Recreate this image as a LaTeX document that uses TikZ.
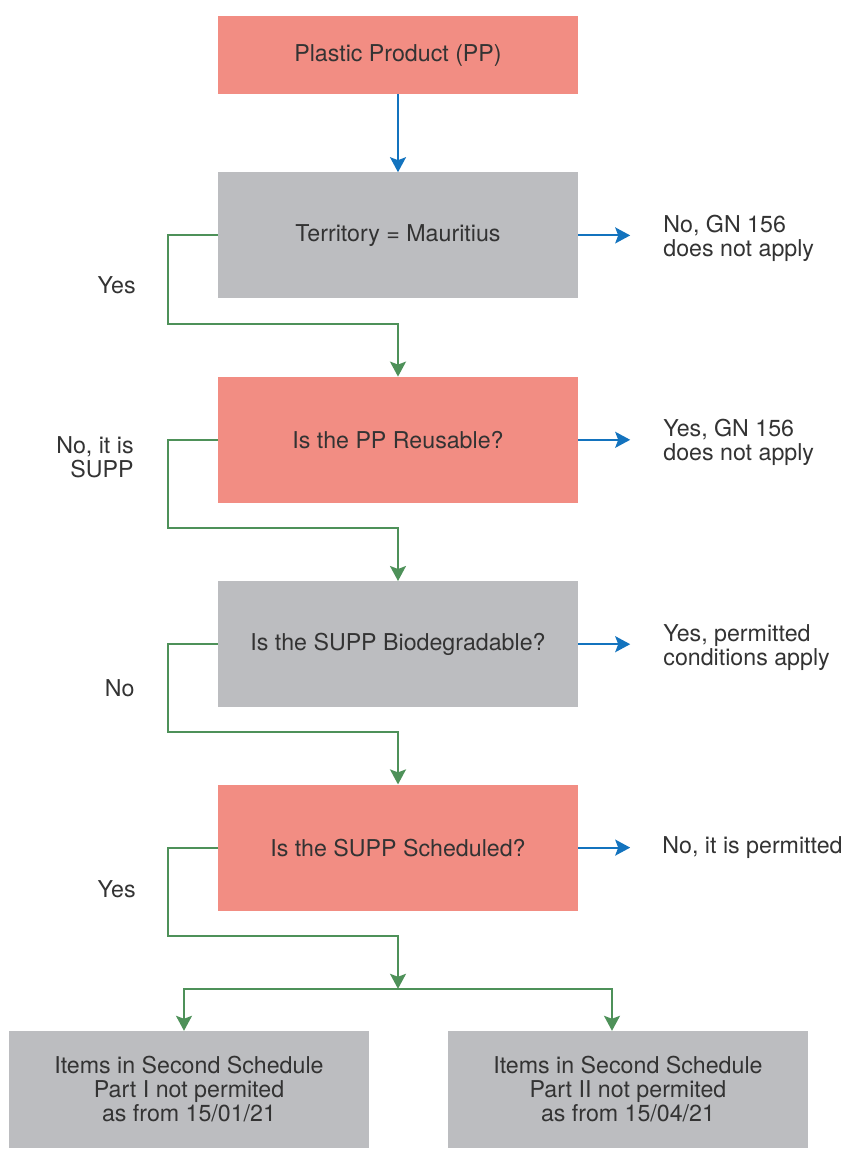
\documentclass[tikz,border=0pt]{standalone}
\usepackage{fontspec}
\setmainfont{TeX Gyre Heros}
\usetikzlibrary{positioning,arrows.meta}
\definecolor{salmon}{HTML}{F28D83}
\definecolor{boxgray}{HTML}{BCBDC0}
\definecolor{flowgreen}{HTML}{4E9159}
\definecolor{flowblue}{HTML}{1373BE}
\definecolor{txt}{HTML}{333333}

\begin{document}
\begin{tikzpicture}[x=1pt,y=1pt,
font=\fontsize{23.2}{24}\selectfont, text=txt,
redbox/.style={rectangle, fill=salmon, minimum width=360pt, minimum height=126pt, align=center},
greybox/.style={rectangle, fill=boxgray, minimum width=360pt, minimum height=126pt, align=center},
answer/.style={inner sep=0pt, align=left, anchor=west},
choice/.style={inner sep=0pt, align=right, anchor=east},
bluearrow/.style={draw=flowblue, line width=2pt, -{Stealth[length=15pt,width=16pt,inset=3pt]}},
greenarrow/.style={draw=flowgreen, line width=2pt, -{Stealth[length=15pt,width=16pt,inset=3pt]}},
]
\useasboundingbox (0,0) rectangle (847,-1149);
%Nodes
\node[redbox, minimum height=78pt]  (pp)       at (398,-55)      {Plastic Product (PP)};
\node[greybox]   (terr)      [below=78pt of pp]      {Territory = Mauritius};
\node[redbox]    (reuse)     [below=78pt of terr]    {Is the PP Reusable?};
\node[greybox]   (bio)       [below=78pt of reuse]   {Is the SUPP Biodegradable?};
\node[redbox]    (sched)     [below=77pt of bio]     {Is the SUPP Scheduled?};
\node[greybox, minimum height=117pt]  (part1) [below=120pt of sched, xshift=-209pt] {Items in Second Schedule\\ Part I not permited\\ as from 15/01/21};
\node[greybox, minimum height=117pt]  (part2) [below=120pt of sched, xshift=230pt]  {Items in Second Schedule\\ Part II not permited\\ as from 15/04/21};

\node[answer]    (noapply)   at ([xshift=85pt,yshift=-3pt]terr.east)   {No, GN 156\\ does not apply};
\node[answer]    (yesapply)  at ([xshift=85pt,yshift=-3pt]reuse.east)  {Yes, GN 156\\ does not apply};
\node[answer]    (permcond)  at ([xshift=85pt,yshift=-3pt]bio.east)    {Yes, permitted\\ conditions apply};
\node[answer]    (permitted) at ([xshift=84pt]sched.east)  {No, it is permitted};

\node[choice]    (yes1)      at ([xshift=-82pt,yshift=-50pt]terr.west)   {Yes};
\node[choice]    (supp)      at ([xshift=-84pt,yshift=-17pt]reuse.west)  {No, it is\\ SUPP};
\node[choice]    (no1)       at ([xshift=-83pt,yshift=-44pt]bio.west)    {No};
\node[choice]    (yes2)      at ([xshift=-82pt,yshift=-42pt]sched.west)  {Yes};

\coordinate (split) at ([yshift=-78pt]sched.south);

%Lines
\draw[bluearrow] (pp.south) -- (terr.north);
\draw[bluearrow, shorten >=33pt] (terr.east) -- (terr.east -| noapply.west);
\draw[bluearrow, shorten >=33pt] (reuse.east) -- (reuse.east -| yesapply.west);
\draw[bluearrow, shorten >=33pt] (bio.east) -- (bio.east -| permcond.west);
\draw[bluearrow, shorten >=32pt] (sched.east) -- (sched.east -| permitted.west);

\draw[greenarrow] (terr.west) -- ++(-50,0) |- ([yshift=-25pt]terr.south) -- (reuse.north);
\draw[greenarrow] (reuse.west) -- ++(-50,0) |- ([yshift=-25pt]reuse.south) -- (bio.north);
\draw[greenarrow] (bio.west) -- ++(-50,0) |- ([yshift=-25pt]bio.south) -- (sched.north);
\draw[greenarrow] (sched.west) -- ++(-50,0) |- ([yshift=-25pt]sched.south) -- (split);
\draw[greenarrow] (split) -| ([xshift=-5pt]part1.north);
\draw[greenarrow] (split) -| ([xshift=-16pt]part2.north);

\end{tikzpicture}
\end{document}
